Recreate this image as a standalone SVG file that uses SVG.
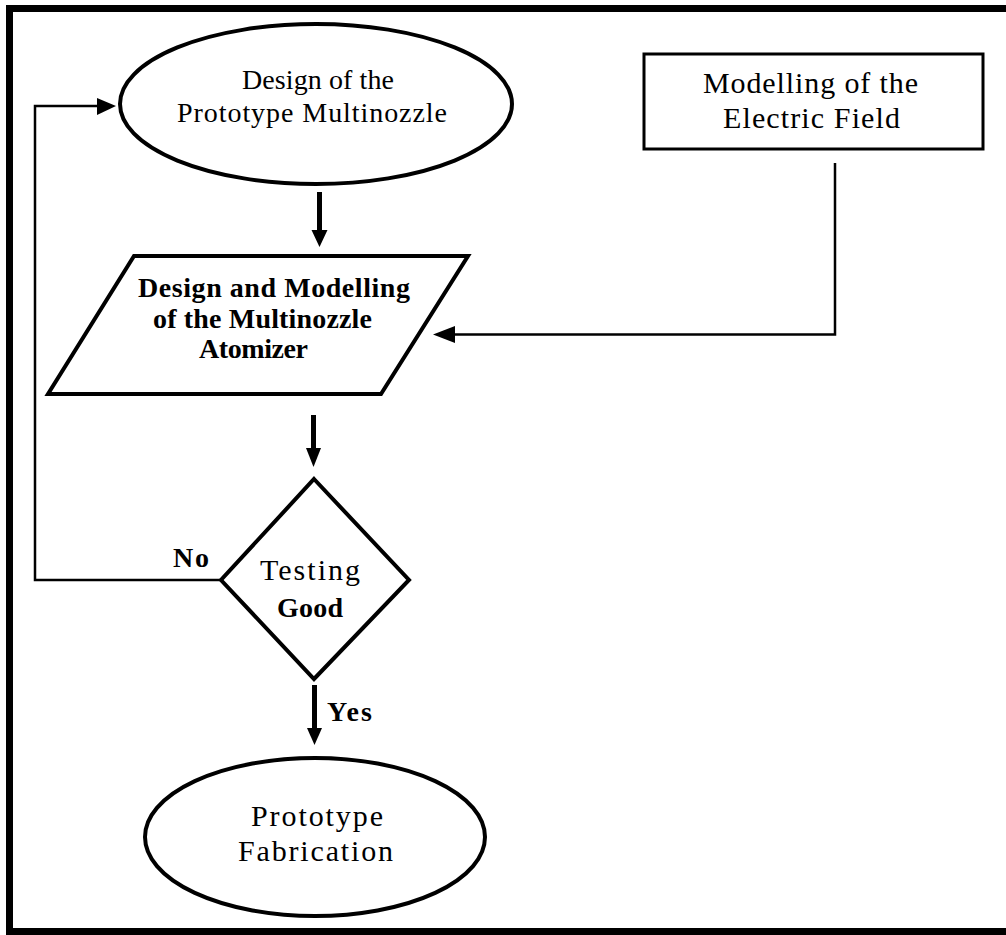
<svg xmlns="http://www.w3.org/2000/svg" width="1006" height="935" viewBox="0 0 1006 935">
<style>
.shape{fill:#fff;stroke:#000;stroke-width:4}
.thin{fill:#fff;stroke:#000;stroke-width:3}
.t{font-family:"Liberation Serif","Times New Roman",serif;font-size:30px;fill:#000}
.s{font-size:28px}
.b{font-weight:bold;font-size:28px}
.line{fill:none;stroke:#000;stroke-width:2.5}
.shaft{fill:none;stroke:#000;stroke-width:5}
.head{fill:#000}
</style>
<rect x="0" y="0" width="1006" height="935" fill="#fff"/>
<g id="frame">
<rect x="6" y="5" width="1000" height="7" fill="#000"/>
<rect x="6" y="5" width="7" height="930" fill="#000"/>
<rect x="6" y="928" width="1000" height="7" fill="#000"/>
</g>
<g id="connectors">
<line class="shaft" x1="319.5" y1="192" x2="319.5" y2="231"/>
<polygon class="head" points="311.5,230 327.5,230 319.5,247"/>
<line class="shaft" x1="313.5" y1="415" x2="313.5" y2="449"/>
<polygon class="head" points="306,448 321,448 313.5,467"/>
<line class="shaft" x1="314.5" y1="685" x2="314.5" y2="729"/>
<polygon class="head" points="307,728 322,728 314.5,745"/>
<polyline class="line" points="220,580 35,580 35,106 99,106"/>
<polygon class="head" points="97,98 97,115 116,106"/>
<polyline class="line" points="835,163 835,334.5 454,334.5"/>
<polygon class="head" points="455,326 455,343 433,334.5"/>
</g>
<g id="node-design-prototype">
<ellipse class="shape" cx="316" cy="104" rx="196" ry="80"/>
<text class="t s" x="318" y="89" text-anchor="middle" textLength="152" lengthAdjust="spacing">Design of the</text>
<text class="t s" x="177" y="122" textLength="270" lengthAdjust="spacing">Prototype Multinozzle</text>
</g>
<g id="node-electric-field">
<rect class="thin" x="644" y="54" width="339" height="95"/>
<text class="t" x="703" y="93" textLength="215" lengthAdjust="spacing">Modelling of the</text>
<text class="t" x="723" y="128" textLength="177" lengthAdjust="spacing">Electric Field</text>
</g>
<g id="node-multinozzle-atomizer">
<polygon class="shape" points="134,256 468,256 381,394 48,394"/>
<text class="t b" x="138" y="297" textLength="272" lengthAdjust="spacing">Design and Modelling</text>
<text class="t b" x="153" y="328" textLength="219" lengthAdjust="spacing">of the Multinozzle</text>
<text class="t b" x="199" y="358" textLength="109" lengthAdjust="spacing">Atomizer</text>
</g>
<g id="node-testing">
<polygon class="shape" points="314,479 409,580 314,679 221,580"/>
<text class="t" x="260" y="580" textLength="100" lengthAdjust="spacing">Testing</text>
<text class="t b" x="277" y="617" textLength="66" lengthAdjust="spacing">Good</text>
</g>
<g id="labels">
<text class="t b" x="173" y="567" textLength="36" lengthAdjust="spacing">No</text>
<text class="t b" x="327" y="721" textLength="45" lengthAdjust="spacing">Yes</text>
</g>
<g id="node-fabrication">
<ellipse class="shape" cx="315" cy="837" rx="170" ry="79"/>
<text class="t" x="251" y="826" textLength="132" lengthAdjust="spacing">Prototype</text>
<text class="t" x="238" y="861" textLength="155" lengthAdjust="spacing">Fabrication</text>
</g>
</svg>
